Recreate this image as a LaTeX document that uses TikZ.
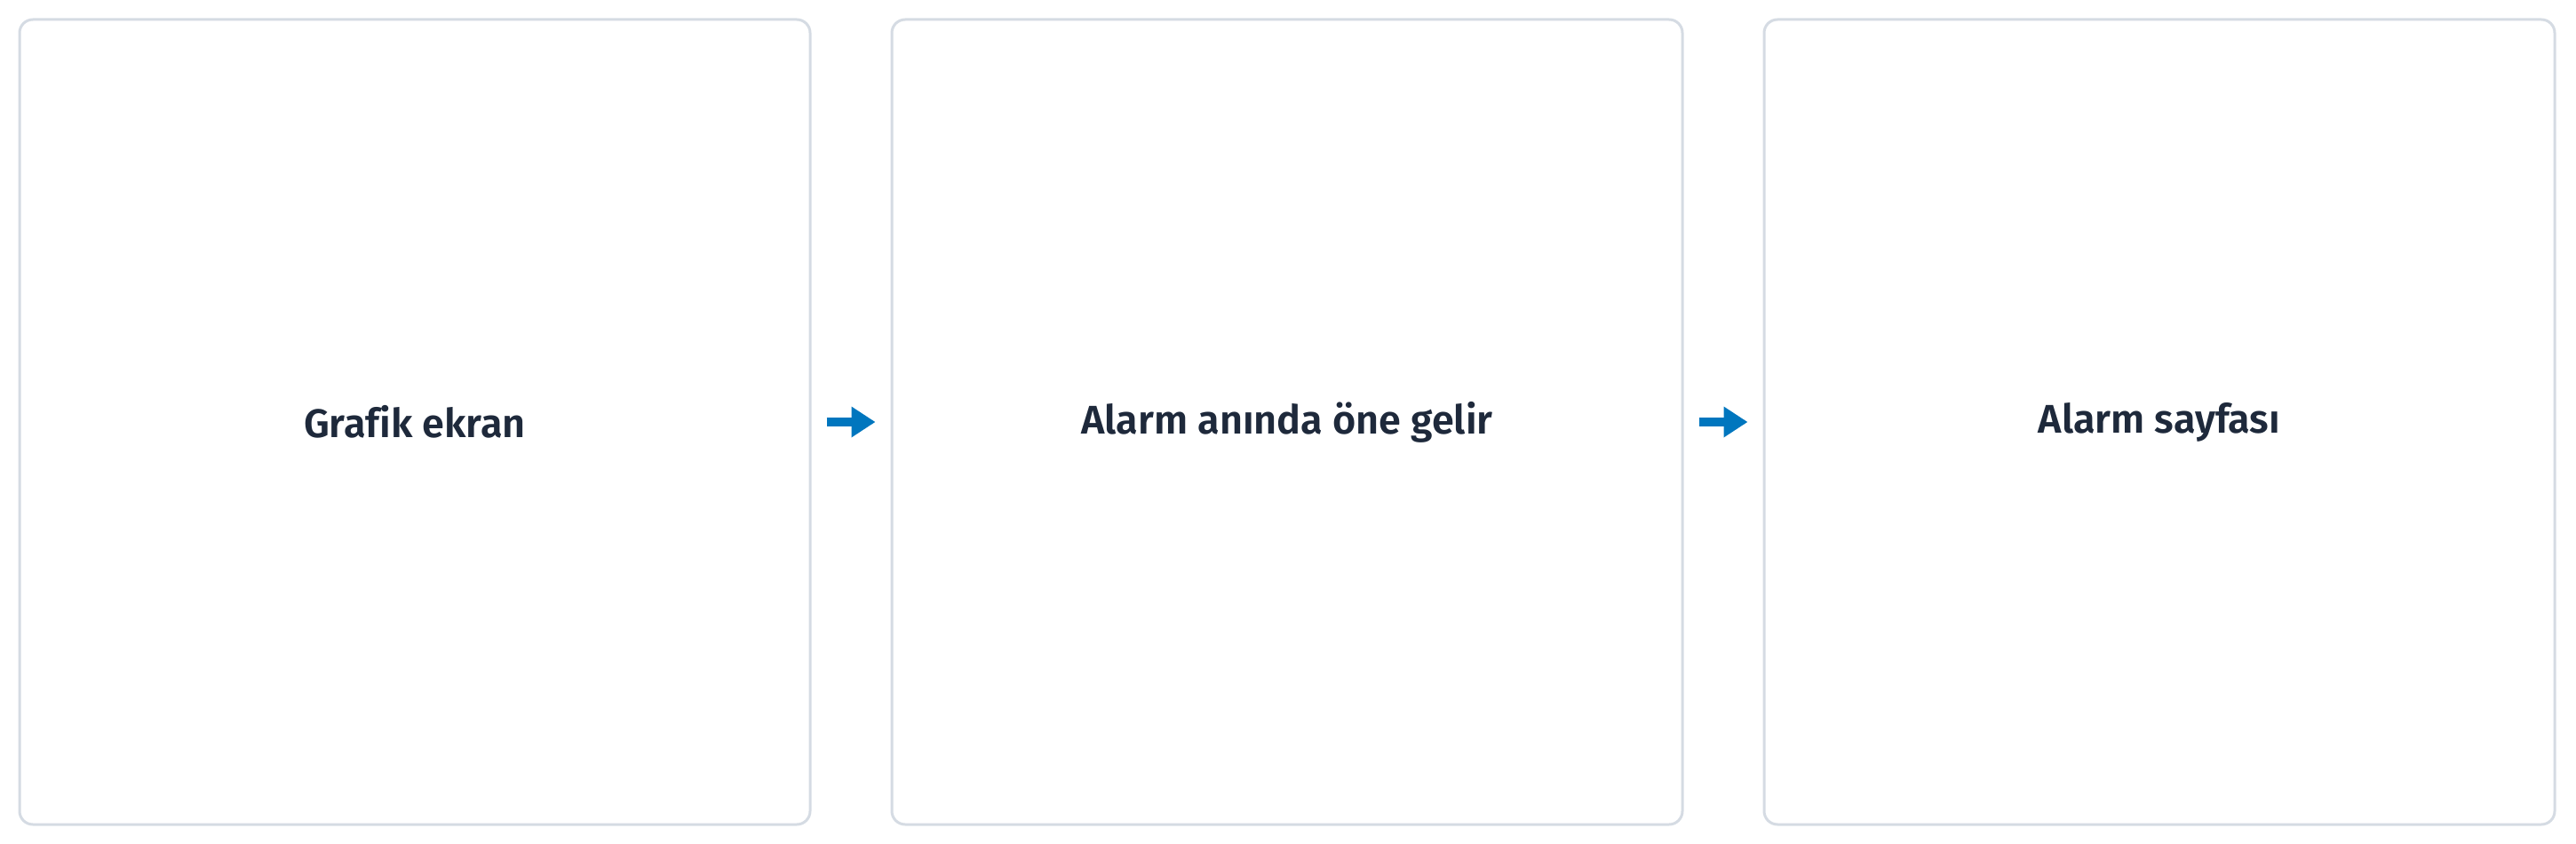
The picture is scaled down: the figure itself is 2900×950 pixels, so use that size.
\documentclass[tikz,border=0pt]{standalone}
\usepackage{fontspec}
\setmainfont{Fira Sans}[BoldFont={Fira Sans SemiBold},Ligatures=NoCommon]
\usetikzlibrary{arrows.meta}
\definecolor{boxline}{RGB}{213,219,227}
\definecolor{txt}{RGB}{30,41,59}
\definecolor{arr}{RGB}{0,118,190}
\begin{document}
\begin{tikzpicture}[x=1pt,y=-1pt,
  panel/.style={draw=boxline,line width=3pt,rounded corners=15pt,fill=white,
    minimum width=890pt,minimum height=906pt,inner sep=0pt,
    font=\fontsize{45}{52}\selectfont\bfseries,text=txt},
  flow/.style={draw=arr,line width=10pt,-{Triangle[length=27pt,width=33pt]},
    shorten <=17pt,shorten >=17pt}]
\useasboundingbox (0,0) rectangle (2900,950);
\node[panel] (a) at (467,475) {\raisebox{-3pt}{Grafik ekran}};
\node[panel] (b) at (1449,475) {\raisebox{-3pt}{Alarm anında öne gelir}};
\node[panel] (c) at (2431,475) {\raisebox{-3pt}{Alarm sayfası}};
\draw[flow] (a.east) -- (b.west);
\draw[flow] (b.east) -- (c.west);
\end{tikzpicture}
\end{document}
